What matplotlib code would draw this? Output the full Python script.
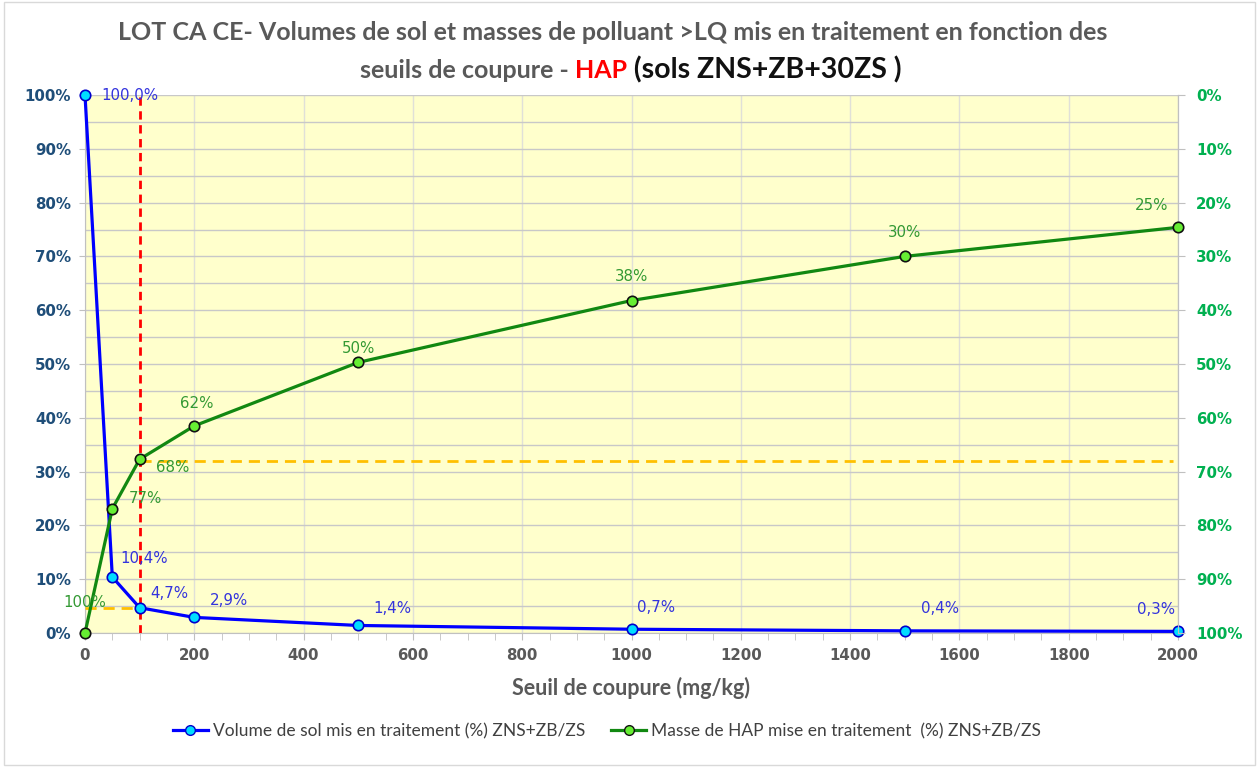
import matplotlib
matplotlib.use("Agg")
import matplotlib.pyplot as plt
from matplotlib.ticker import FuncFormatter, MultipleLocator
from matplotlib.lines import Line2D
from matplotlib.patches import Rectangle
from matplotlib import font_manager

# ---------------- data ----------------
seuils = [0, 50, 100, 200, 500, 1000, 1500, 2000]
volume_pct = [100.0, 10.4, 4.7, 2.9, 1.4, 0.7, 0.4, 0.3]
masse_pct = [100.0, 76.9, 67.7, 61.5, 49.7, 38.2, 30.0, 24.6]
seuil_choisi = 100
masse_seuil = 68
volume_seuil = 4.7

title_line1 = "LOT CA CE- Volumes de sol et masses de polluant >LQ mis en traitement en fonction des"
title_line2 = ["seuils de coupure - ", "HAP", " (sols ZNS+ZB+30ZS )"]
xlabel = "Seuil de coupure (mg/kg)"
legend_labels = ["Volume de sol mis en traitement (%) ZNS+ZB/ZS",
                 "Masse de HAP mise en traitement  (%) ZNS+ZB/ZS"]

# ---------------- style ----------------
avail = {f.name for f in font_manager.fontManager.ttflist}
cal = "Lato" if "Lato" in avail else "DejaVu Sans"
W, H = 1259, 767
fig = plt.figure(figsize=(W / 100, H / 100), dpi=100)
fig.patch.set_facecolor("white")
fig.add_artist(Rectangle((0.003, 0.003), 0.994, 0.994, transform=fig.transFigure,
                         fill=False, edgecolor="#D9D9D9", lw=1))

L, R, T, B = 85, 1178, 95, 633
ax = fig.add_axes([L / W, 1 - B / H, (R - L) / W, (B - T) / H])
ax.set_facecolor("#FFFFCC")
ax.set_xlim(0, 2000)
ax.set_ylim(0, 100)
ax.yaxis.set_major_locator(MultipleLocator(10))
ax.yaxis.set_minor_locator(MultipleLocator(5))
ax.xaxis.set_major_locator(MultipleLocator(200))
ax.xaxis.set_minor_locator(MultipleLocator(50))
ax.yaxis.set_major_formatter(FuncFormatter(lambda v, p: f"{v:.0f}%"))
ax.grid(axis="y", which="both", color="#C8C8C8", lw=1)
ax.grid(axis="x", which="major", color="#E0E0D8", lw=1)
ax.set_axisbelow(True)
ax.spines["top"].set_visible(False)
for s in ["left", "bottom", "right"]:
    ax.spines[s].set_color("#C0C0C0")
ax.tick_params(axis="y", which="major", colors="#C0C0C0", length=4, labelcolor="#1F4E79",
               labelsize=10.8, pad=6)
ax.tick_params(axis="y", which="minor", length=0)
ax.tick_params(axis="x", which="major", colors="#C0C0C0", length=5, labelcolor="#595959",
               labelsize=10.8, pad=6)
ax.tick_params(axis="x", which="minor", colors="#C0C0C0", length=5)
for lab in ax.get_yticklabels() + ax.get_xticklabels():
    lab.set_fontweight("bold")
ax.set_xlabel(xlabel, fontsize=15.5, fontweight="bold", color="#595959",
              family=cal, labelpad=10)

ax2 = ax.twinx()
ax2.set_ylim(100, 0)
ax2.yaxis.set_major_locator(MultipleLocator(10))
ax2.yaxis.set_major_formatter(FuncFormatter(lambda v, p: f"{v:.0f}%"))
ax2.tick_params(axis="y", colors="#C0C0C0", length=5, labelcolor="#00B050",
                labelsize=10.8, pad=8)
for lab in ax2.get_yticklabels():
    lab.set_fontweight("bold")
for s in ["top", "left", "bottom"]:
    ax2.spines[s].set_visible(False)
ax2.spines["right"].set_color("#C0C0C0")

# reference lines
ax.vlines(seuil_choisi, 0, 100, colors="#FF0000", linestyles=(0, (3, 2)), lw=2, zorder=3)
ax.hlines(volume_seuil, 0, seuil_choisi, colors="#FFC000", linestyles=(0, (4, 2.5)), lw=2, zorder=3)
ax2.hlines(masse_seuil, seuil_choisi, 1990, colors="#FFC000", linestyles=(0, (4, 2.5)), lw=2, zorder=1)

# series
ax.plot(seuils, volume_pct, color="#0000FF", lw=2.3, marker="o", ms=7.5,
        mfc="#00DDFF", mec="#0000CC", mew=1.2, zorder=5, clip_on=False)
ax2.plot(seuils, masse_pct, color="#118811", lw=2.3, marker="o", ms=7.5,
         mfc="#66EE33", mec="#111111", mew=1.2, zorder=4, clip_on=False)

# data labels (offsets in points)
blue_off = [(12, 0, "left", "center"), (6, 13, "left", "center"), (8, 10, "left", "center"),
            (11, 12, "left", "center"), (11, 12, "left", "center"), (4, 16, "left", "center"),
            (12, 16, "left", "center"), (-2, 16, "right", "center")]
for x, v, (dx, dy, ha, va) in zip(seuils, volume_pct, blue_off):
    ax.annotate(f"{v:.1f}%".replace(".", ","), (x, v), xytext=(dx, dy),
                textcoords="offset points", ha=ha, va=va, color="#3333DD",
                fontsize=10.8, zorder=6, annotation_clip=False)

green_off = [(0, 22, "center", "center"), (12, 7, "left", "center"), (12, -6, "left", "center"),
             (2, 16, "center", "center"), (0, 10, "center", "center"), (0, 17, "center", "center"),
             (0, 17, "center", "center"), (-7, 16, "right", "center")]
for x, v, (dx, dy, ha, va) in zip(seuils, masse_pct, green_off):
    ax2.annotate(f"{v:.0f}%", (x, v), xytext=(dx, dy), textcoords="offset points",
                 ha=ha, va=va, color="#339933", fontsize=10.8, zorder=6,
                 annotation_clip=False)

# title
fig.text(613 / W, 1 - 33 / H, title_line1, ha="center", va="center", fontsize=18,
         fontweight="bold", color="#595959", family=cal)
fig.canvas.draw()
r = fig.canvas.get_renderer()
x0 = 360
y2 = 1 - 70 / H
colors = ["#595959", "#FF0000", "#111111"]
sizes = [18, 18, 20.5]
for txt, c, fs in zip(title_line2, colors, sizes):
    t = fig.text(x0 / W, y2, txt, ha="left", va="center", fontsize=fs,
                 fontweight="bold", color=c, family=cal)
    bb = t.get_window_extent(renderer=r)
    x0 += bb.width

# legend
handles = [Line2D([], [], color="#0000FF", lw=2.3, marker="o", ms=7, mfc="#00DDFF", mec="#0000CC"),
           Line2D([], [], color="#118811", lw=2.3, marker="o", ms=7, mfc="#66EE33", mec="#111111")]
fig.legend(handles, legend_labels, loc="center", bbox_to_anchor=(607 / W, 1 - 731 / H),
           ncol=2, frameon=False, prop={"family": cal, "size": 12.5},
           labelcolor="#404040", handlelength=2.0, columnspacing=1.5, handletextpad=0.3)

fig.savefig("out.png", dpi=100, facecolor="white")
